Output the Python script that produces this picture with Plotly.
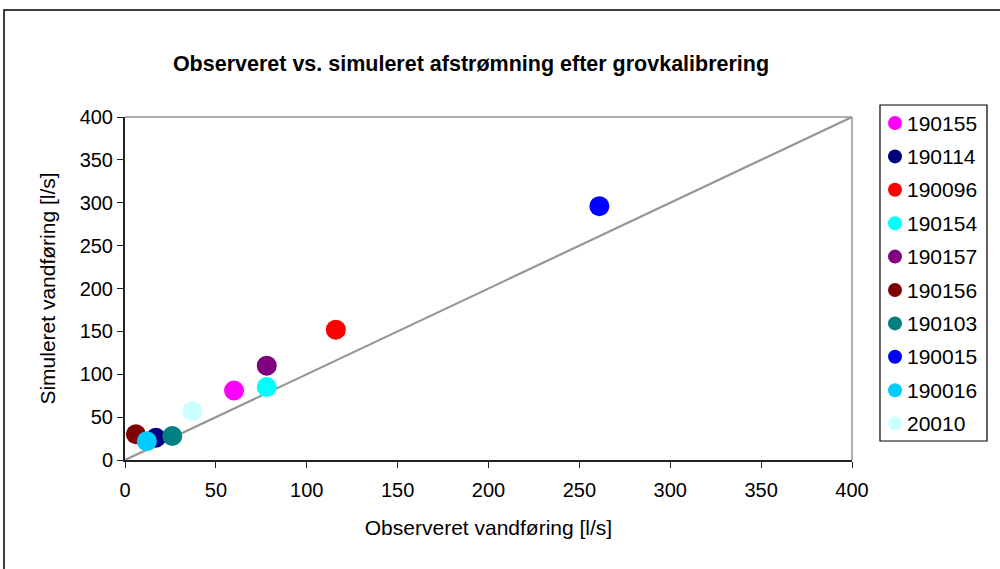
import plotly.graph_objects as go

stations = ["190155", "190114", "190096", "190154", "190157",
            "190156", "190103", "190015", "190016", "20010"]
observed = [60, 17, 116, 78, 78, 6, 26, 261, 12, 37]
simulated = [81, 26, 152, 85, 110, 30, 28, 296, 22, 57]
colors = ["#FF00FF", "#000080", "#FF0000", "#00FFFF", "#800080",
          "#800000", "#008080", "#0000FF", "#00CCFF", "#CCFFFF"]

line_x = [0, 400]
line_y = [0, 400]
ticks = [0, 50, 100, 150, 200, 250, 300, 350, 400]

FONT = "Liberation Sans, Arial, sans-serif"

W, H = 1000, 569
ML, MR, MT, MB = 125, 148, 117, 109
PW, PH = W - ML - MR, H - MT - MB


def px_x(px):
    return (px - ML) / PW


def px_y(py):
    return (H - MB - py) / PH


fig = go.Figure()
fig.add_trace(go.Scatter(x=line_x, y=line_y, mode="lines",
                         line=dict(color="#969696", width=2.2),
                         showlegend=False, hoverinfo="skip"))
for name, ox, sy, c in zip(stations, observed, simulated, colors):
    fig.add_trace(go.Scatter(x=[ox], y=[sy], mode="markers", name=name,
                             showlegend=False,
                             marker=dict(color=c, size=20, line=dict(width=0))))

shapes = [
    dict(type="line", xref="paper", yref="paper", x0=0, x1=1, y0=1, y1=1,
         line=dict(color="#969696", width=1.5)),
    dict(type="line", xref="paper", yref="paper", x0=1, x1=1, y0=0, y1=1,
         line=dict(color="#969696", width=1.5)),
    dict(type="rect", xref="paper", yref="paper", x0=px_x(4), x1=px_x(1010),
         y0=px_y(600), y1=px_y(10), line=dict(color="black", width=1.5),
         fillcolor="rgba(0,0,0,0)"),
    # legend box
    dict(type="rect", xref="paper", yref="paper", x0=px_x(880), x1=px_x(987),
         y0=px_y(441), y1=px_y(105), line=dict(color="black", width=1.2),
         fillcolor="white"),
]
annotations = []
leg_top, leg_step = 123, 33.4
for i, (name, c) in enumerate(zip(stations, colors)):
    cy = leg_top + i * leg_step
    shapes.append(dict(type="circle", xref="paper", yref="paper",
                       xsizemode="pixel", ysizemode="pixel",
                       xanchor=px_x(895), yanchor=px_y(cy),
                       x0=-7, x1=7, y0=-7, y1=7,
                       fillcolor=c, line=dict(width=0)))
    annotations.append(dict(text=name, xref="paper", yref="paper",
                            x=px_x(905), y=px_y(cy), xanchor="left",
                            yanchor="middle", showarrow=False,
                            font=dict(size=21, color="black")))

fig.update_layout(
    width=W, height=H,
    margin=dict(l=ML, r=MR, t=MT, b=MB),
    paper_bgcolor="white", plot_bgcolor="white",
    font=dict(family=FONT, size=20, color="black"),
    showlegend=False,
    title=dict(text="<b>Observeret vs. simuleret afstrømning efter grovkalibrering</b>",
               x=0.471, xanchor="center", y=1 - 63 / H, yanchor="middle",
               font=dict(size=21.5)),
    xaxis=dict(range=[0, 400], tickvals=ticks,
               showgrid=False, zeroline=False, showline=True, linecolor="#222222",
               linewidth=2, ticks="outside", ticklen=6, tickcolor="#222222",
               ticklabelstandoff=5,
               title=dict(text="Observeret vandføring [l/s]", standoff=20,
                          font=dict(size=21)),
               tickfont=dict(size=20)),
    yaxis=dict(range=[0, 400], tickvals=ticks,
               showgrid=False, zeroline=False, showline=True, linecolor="#222222",
               linewidth=2, ticks="outside", ticklen=6, tickcolor="#222222",
               title=dict(text="Simuleret vandføring [l/s]", standoff=18,
                          font=dict(size=21)),
               tickfont=dict(size=20)),
    shapes=shapes,
    annotations=annotations,
)

fig.write_html("out.html")
